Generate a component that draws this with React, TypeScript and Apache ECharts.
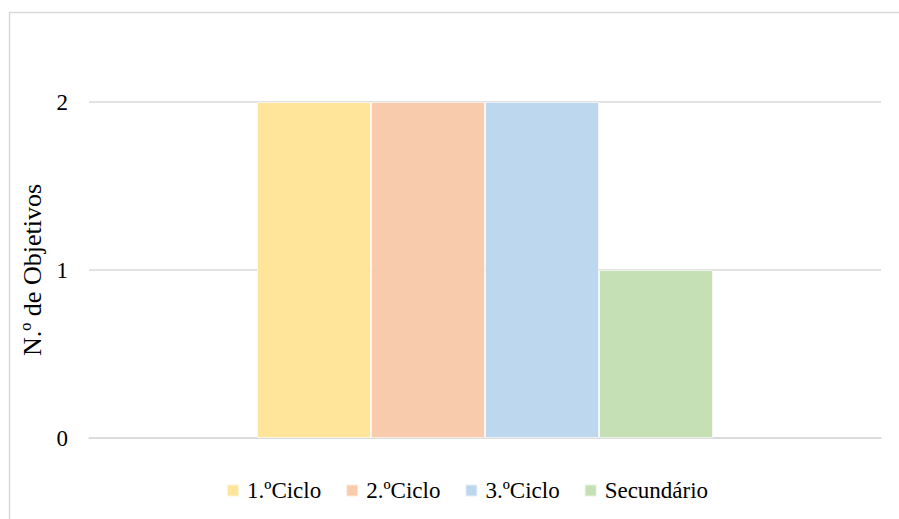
import React, { useEffect, useRef } from "react";
import * as echarts from "echarts";

const categories = [""];
const seriesNames = ["1.ºCiclo", "2.ºCiclo", "3.ºCiclo", "Secundário"];
const seriesValues = [[2], [2], [2], [1]];
const seriesColors = ["#FFE599", "#F8CBAD", "#BDD7EE", "#C5E0B4"];
const yTicks = [0, 1, 2];
const yAxisTitle = "N.º de Objetivos";

const FONT = "Liberation Serif";
const legendText = { fontFamily: FONT, fontSize: 23, color: "#000", padding: [0, 0, 0, 3] };

export default function App() {
  const ref = useRef<HTMLDivElement>(null);
  useEffect(() => {
    if (!ref.current) return;
    const chart = echarts.init(ref.current, undefined, { renderer: "svg" });
    chart.setOption({
      animation: false,
      backgroundColor: "#ffffff",
      textStyle: { fontFamily: FONT },
      graphic: [
        {
          type: "rect",
          shape: { x: 9.5, y: 12.5, width: 900, height: 520 },
          style: { fill: "none", stroke: "#d9d9d9", lineWidth: 1.5 },
          silent: true,
        },
      ],
      grid: { left: 89, right: 18, top: 102, bottom: 81, containLabel: false },
      legend: {
        left: 221,
        top: 474,
        itemWidth: 12,
        itemHeight: 12,
        itemGap: 24,
        icon: "rect",
        textStyle: legendText,
        data: seriesNames,
      },
      xAxis: {
        type: "category",
        data: categories,
        axisLine: { show: true, lineStyle: { color: "#d9d9d9", width: 1.5 } },
        axisTick: { show: false },
        axisLabel: { show: false },
      },
      yAxis: {
        type: "value",
        min: yTicks[0],
        max: yTicks[yTicks.length - 1],
        interval: 1,
        name: yAxisTitle,
        nameLocation: "middle",
        nameGap: 41,
        nameRotate: 90,
        nameTextStyle: { fontFamily: FONT, fontSize: 26, color: "#000" },
        axisLine: { show: false },
        axisTick: { show: false },
        axisLabel: { fontFamily: FONT, fontSize: 23, color: "#000", margin: 21 },
        splitLine: { lineStyle: { color: "#d9d9d9", width: 1.5 } },
      },
      series: seriesNames.map((name, i) => ({
        name,
        type: "bar",
        data: seriesValues[i],
        barWidth: 114,
        barGap: "0%",
        itemStyle: {
          color: seriesColors[i],
          borderColor: "rgba(255,255,255,0.6)",
          borderWidth: 1,
        },
      })),
    });
    return () => chart.dispose();
  }, []);
  return (
    <div
      ref={ref}
      style={{ position: "absolute", left: 0, top: 0, width: 899, height: 519 }}
    />
  );
}
